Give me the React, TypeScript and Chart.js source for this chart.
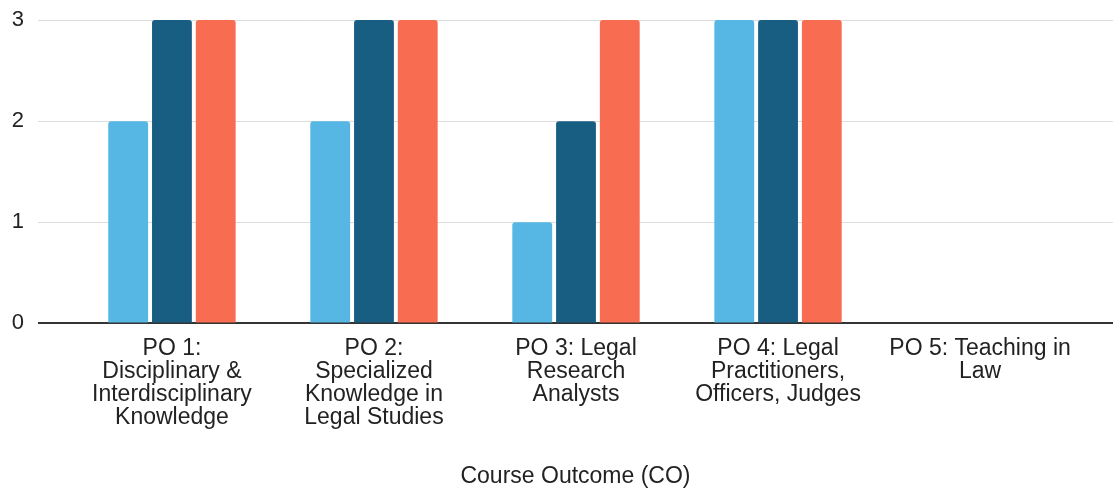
import React, { useEffect, useRef } from "react";
import { Chart, registerables } from "chart.js";

Chart.register(...registerables);

const categories: string[][] = [
  ["PO 1:", "Disciplinary &", "Interdisciplinary", "Knowledge"],
  ["PO 2:", "Specialized", "Knowledge in", "Legal Studies"],
  ["PO 3: Legal", "Research", "Analysts"],
  ["PO 4: Legal", "Practitioners,", "Officers, Judges"],
  ["PO 5: Teaching in", "Law"],
];
const series1: number[] = [2, 2, 1, 3, 0];
const series2: number[] = [3, 3, 2, 3, 0];
const series3: number[] = [3, 3, 3, 3, 0];
const yTicks: number[] = [0, 1, 2, 3];
const axisTitle = "Course Outcome (CO)";

const FONT = "'Liberation Sans', Arial, sans-serif";

export default function App() {
  const ref = useRef<HTMLCanvasElement | null>(null);
  useEffect(() => {
    document.body.style.margin = "0";
    const toPts = (arr: number[]) => arr.map((v, i) => ({ x: i, y: v }));
    const chart = new Chart(ref.current!, {
      type: "bar",
      data: {
        datasets: [
          { label: "Series 1", data: toPts(series1), backgroundColor: "#56b7e5" },
          { label: "Series 2", data: toPts(series2), backgroundColor: "#185e83" },
          { label: "Series 3", data: toPts(series3), backgroundColor: "#f86c52" },
        ] as any,
      },
      options: {
        animation: false,
        responsive: false,
        layout: { padding: { top: 20, right: 0, bottom: 0, left: 0 } },
        datasets: {
          bar: {
            categoryPercentage: 0.65,
            barPercentage: 0.91,
            borderRadius: { topLeft: 3, topRight: 3, bottomLeft: 0, bottomRight: 0 },
            borderSkipped: "bottom",
          },
        } as any,
        plugins: { legend: { display: false }, tooltip: { enabled: false } },
        scales: {
          x: {
            type: "linear",
            offset: false,
            min: -0.663,
            max: 4.658,
            grid: { display: false, offset: false },
            border: { display: false },
            afterBuildTicks: (scale: any) => {
              scale.ticks = categories.map((_, i) => ({ value: i }));
            },
            ticks: {
              autoSkip: false,
              maxRotation: 0,
              minRotation: 0,
              padding: 6,
              color: "#222",
              font: { family: FONT, size: 23, lineHeight: 1.0 },
              callback: (v: any) => categories[Math.round(Number(v))] ?? "",
            },
            title: {
              display: true,
              text: axisTitle,
              color: "#222",
              font: { family: FONT, size: 23 },
              padding: { top: 27, bottom: 0 },
            },
          },
          y: {
            min: 0,
            max: 3,
            afterFit: (scale: any) => {
              scale.width = 38;
              scale.paddingTop = 0;
              scale.paddingBottom = 0;
            },
            afterBuildTicks: (scale: any) => {
              scale.ticks = yTicks.map((v) => ({ value: v }));
            },
            border: { display: false },
            grid: {
              drawTicks: false,
              color: (ctx: any) => (ctx.tick && ctx.tick.value === 0 ? "#333" : "#dcdcdc"),
              lineWidth: (ctx: any) => (ctx.tick && ctx.tick.value === 0 ? 2 : 1),
            },
            ticks: {
              padding: 14,
              color: "#222",
              font: { family: FONT, size: 22 },
            },
          },
        } as any,
      },
    });
    return () => chart.destroy();
  }, []);
  return <canvas ref={ref} width={1113} height={490} style={{ display: "block" }} />;
}
